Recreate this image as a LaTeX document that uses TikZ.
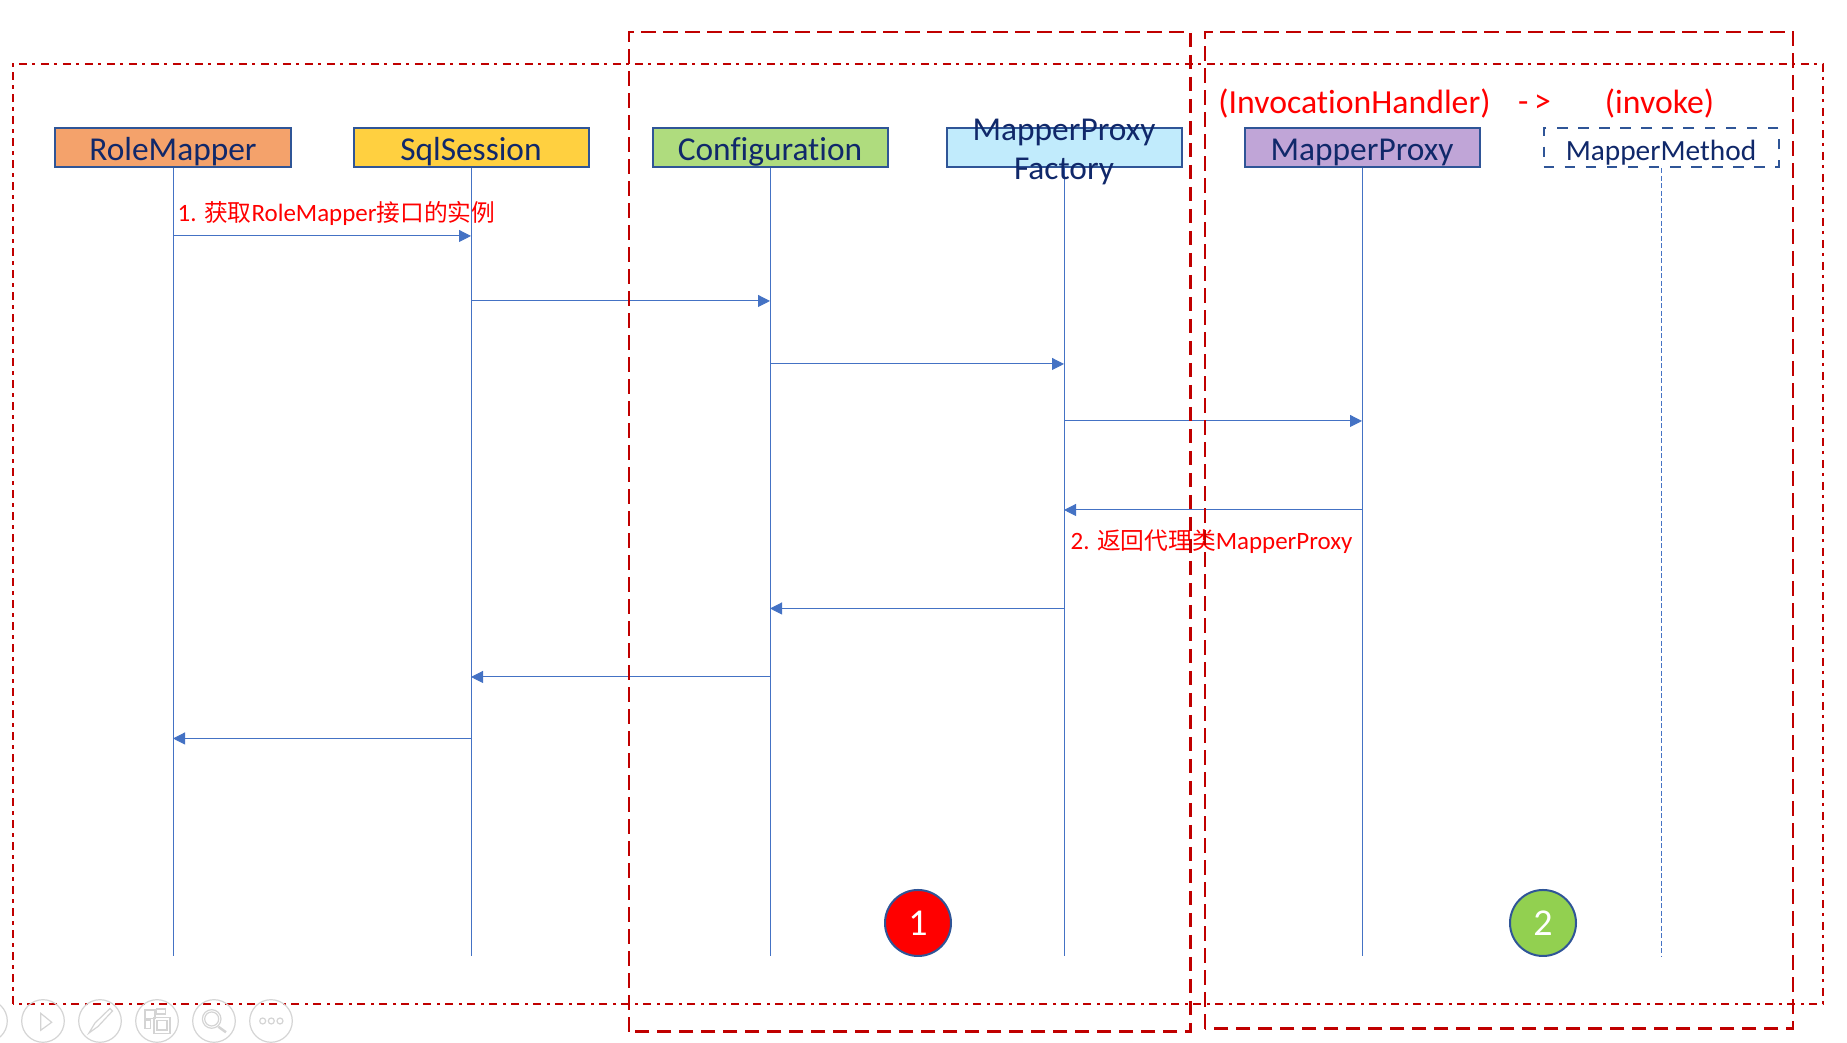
\documentclass[tikz,border=0pt]{standalone}
\usepackage{fontspec}
\setmainfont[Ligatures=CommonOff]{Carlito}
\newfontfamily\cjkfont{Noto Sans CJK SC}
\usetikzlibrary{arrows.meta}
\definecolor{boxline}{HTML}{2F5597}
\definecolor{boxtext}{HTML}{10286A}
\definecolor{lifeblue}{HTML}{4472C4}
\definecolor{framered}{HTML}{C00000}
\definecolor{toolgray}{HTML}{D4D4D4}
\definecolor{rolefill}{HTML}{F4A26B}
\definecolor{sqlfill}{HTML}{FFD040}
\definecolor{configfill}{HTML}{AFDC7E}
\definecolor{factoryfill}{HTML}{C1EBFC}
\definecolor{proxyfill}{HTML}{C0A5D7}
\definecolor{greenfill}{HTML}{92D050}
\newcommand{\cjktext}[1]{{\cjkfont\fontsize{6.75}{8}\selectfont #1}}

\begin{document}
\begin{tikzpicture}[
    box/.style={draw=boxline, line width=0.02cm, minimum width=2.35cm, minimum height=0.39cm, inner sep=0pt, text height=0.325cm, text depth=0.065cm, text=boxtext, font=\fontsize{9.5}{11}\selectfont},
    life/.style={draw=lifeblue, line width=0.01cm},
    msg/.style={life, -{Triangle[length=0.12cm, width=0.12cm]}},
    note/.style={text=red, inner sep=0pt, font=\fontsize{7.1}{8}\selectfont},
    head/.style={text=red, inner sep=0pt, font=\fontsize{9.6}{11}\selectfont},
    group/.style={draw=framered, line width=0.025cm, dash pattern=on 0.145cm off 0.075cm},
    outer/.style={draw=framered, line width=0.026cm, dash pattern=on 0.08cm off 0.05cm on 0.035cm off 0.055cm},
    badge/.style={circle, draw=boxline, line width=0.02cm, minimum size=0.66cm, inner sep=0pt, text=white, font=\fontsize{10.8}{12}\selectfont},
    tool/.style={draw=toolgray, line width=0.012cm}
]
\useasboundingbox (0, 0) rectangle (18.47, 10.43);

% Ends of the lifelines and heights of the messages
\coordinate (lifeend) at (0, 0.87);
\coordinate (m1) at (0, 8.07);
\coordinate (m2) at (0, 7.42);
\coordinate (m3) at (0, 6.79);
\coordinate (m4) at (0, 6.22);
\coordinate (m5) at (0, 5.33);
\coordinate (m6) at (0, 4.345);
\coordinate (m7) at (0, 3.66);
\coordinate (m8) at (0, 3.045);

% Lifeline boxes
\node[box, fill=rolefill] (role) at (1.73, 8.95) {RoleMapper};
\node[box, fill=sqlfill] (sql) at (4.71, 8.95) {SqlSession};
\node[box, fill=configfill] (config) at (7.70, 8.95) {Configuration};
\node[box, fill=factoryfill] (factory) at (10.64, 8.95) {};
\node[box, fill=proxyfill] (proxy) at (13.62, 8.95) {MapperProxy};
\node[box, dashed, fill=white, font=\fontsize{8.35}{10}\selectfont] (method) at (16.61, 8.95) {MapperMethod};

% Lifelines
\draw[life] (role.south) -- (role |- lifeend);
\draw[life] (sql.south) -- (sql |- lifeend);
\draw[life] (config.south) -- (config |- lifeend);
\draw[life] (factory.south) -- (factory |- lifeend);
\draw[life] (proxy.south) -- (proxy |- lifeend);
\draw[life, dash pattern=on 0.05cm off 0.025cm] (method.south) -- (method |- lifeend);

% Calls going down
\draw[msg] (role |- m1) -- (sql |- m1);
\draw[msg] (sql |- m2) -- (config |- m2);
\draw[msg] (config |- m3) -- (factory |- m3);
\draw[msg] (factory |- m4) -- (proxy |- m4);

% Returns coming back
\draw[msg] (proxy |- m5) -- (factory |- m5);
\draw[msg] (factory |- m6) -- (config |- m6);
\draw[msg] (config |- m7) -- (sql |- m7);
\draw[msg] (sql |- m8) -- (role |- m8);

% Text over the factory box
\node[text=boxtext, inner sep=0pt, align=center, font=\fontsize{9.5}{11}\selectfont] (factorytext) at (10.64, 8.912) {MapperProxy\\Factory};

% Red labels
\node[note, anchor=west] (note1) at (1.77, 8.30) {1. \cjktext{获取}RoleMapper\cjktext{接口的实例}};
\node[note, anchor=west] (note2) at (10.70, 5.01) {2. \cjktext{返回代理类}MapperProxy};
\node[head] (handler) at (13.545, 9.395) {(InvocationHandler)};
\node[head] (pointer) at (15.345, 9.395) {-\,>};
\node[head] (invoke) at (16.595, 9.395) {(invoke)};

% Numbered circles
\node[badge, fill=red] (one) at (9.18, 1.20) {1};
\node[badge, fill=greenfill] (two) at (15.43, 1.20) {2};

% Frames
\draw[outer] (0.13, 0.39) rectangle (18.23, 9.79);
\draw[group] (6.29, 0.113) rectangle (11.905, 10.11);
\draw[group] (12.05, 0.143) rectangle (17.93, 10.11);

% Slide show buttons
\draw[tool] (-0.14, 0.22) circle (0.213);
\draw[tool] (0.43, 0.22) circle (0.213);
\draw[tool] (1.00, 0.22) circle (0.213);
\draw[tool] (1.57, 0.22) circle (0.213);
\draw[tool] (2.14, 0.22) circle (0.213);
\draw[tool] (2.71, 0.22) circle (0.213);
\draw[tool] (0.407, 0.297) -- (0.517, 0.207) -- (0.407, 0.127) -- cycle;
\draw[tool] (0.89, 0.10) -- (0.95, 0.20) -- (1.10, 0.345) -- (1.125, 0.32) -- (0.98, 0.165) -- cycle;
\draw[tool] (1.45, 0.247) rectangle (1.55, 0.33);
\draw[tool] (1.567, 0.29) rectangle (1.657, 0.34);
\draw[tool] (1.45, 0.147) rectangle (1.507, 0.23);
\draw[tool] (1.54, 0.097) rectangle (1.70, 0.257);
\draw[tool] (1.57, 0.13) rectangle (1.67, 0.225);
\draw[tool] (2.117, 0.24) circle (0.093);
\draw[tool] (2.117, 0.24) circle (0.07);
\draw[tool, line width=0.025cm] (2.183, 0.163) -- (2.26, 0.107);
\draw[tool] (2.627, 0.22) circle (0.03);
\draw[tool] (2.713, 0.22) circle (0.03);
\draw[tool] (2.80, 0.22) circle (0.03);
\end{tikzpicture}
\end{document}
